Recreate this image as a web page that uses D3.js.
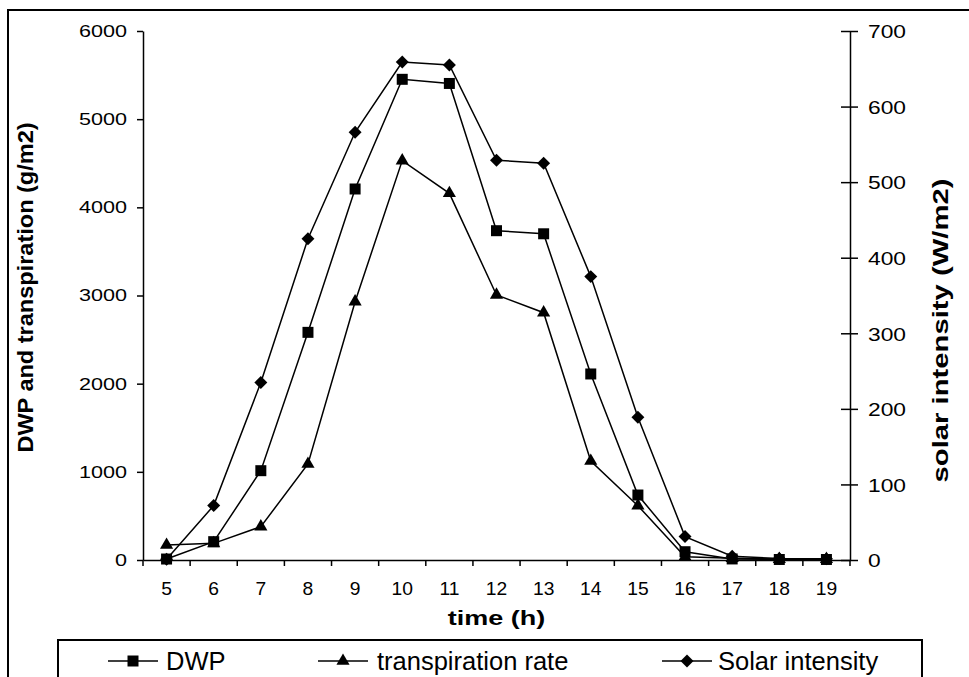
<!DOCTYPE html>
<html>
<head>
<meta charset="utf-8">
<script src="https://cdn.jsdelivr.net/npm/d3@7"></script>
<style>
  html, body { margin: 0; padding: 0; background: #fff; }
  svg { display: block; font-family: "Liberation Sans", Arial, sans-serif; }
</style>
</head>
<body>
<svg id="chart" width="969" height="677"></svg>
<script>
// ---- data ----
const hours = ["5","6","7","8","9","10","11","12","13","14","15","16","17","18","19"];
const dwp = [11, 208, 1013, 2582, 4208, 5452, 5405, 3735, 3700, 2110, 737, 94, 12, 6, 6];
const transpiration = [170, 189, 378, 1089, 2930, 4530, 4159, 3006, 2805, 1123, 616, 37, 20, 10, 10];
const solar = [1, 72, 235, 425, 566, 659, 655, 529, 525, 375, 189, 31, 5, 2, 1.5];
const leftTicks = [0, 1000, 2000, 3000, 4000, 5000, 6000];
const rightTicks = [0, 100, 200, 300, 400, 500, 600, 700];
const seriesNames = ["DWP", "transpiration rate", "Solar intensity"];

const svg = d3.select("#chart");
const L = 143, R = 850, T = 31, B = 560;

// outer border
svg.append("rect").attr("x", 8).attr("y", 10).attr("width", 980).attr("height", 700)
  .attr("fill", "none").attr("stroke", "#000").attr("stroke-width", 2);

const x = d3.scaleBand().domain(hours).range([L, R]);
const yL = d3.scaleLinear().domain([0, 6000]).range([B, T]);
const yR = d3.scaleLinear().domain([0, 700]).range([B, T]);

// left axis
const gL = svg.append("g").attr("transform", `translate(${L},0)`)
  .call(d3.axisLeft(yL).tickValues(leftTicks).tickFormat(d3.format("d")).tickSize(6).tickSizeOuter(0));
gL.select(".domain").attr("stroke-width", 1.5);
gL.selectAll(".tick line").attr("stroke-width", 1.5);
gL.selectAll(".tick text")
  .attr("x", 0).attr("dy", null).attr("dominant-baseline", "central")
  .attr("text-anchor", "end").attr("font-size", 16).attr("fill", "#000")
  .attr("transform", "translate(-16,0) scale(1.35,1)");

// right axis (ticks crossing)
const gR = svg.append("g").attr("transform", `translate(${R},0)`)
  .call(d3.axisRight(yR).tickValues(rightTicks).tickFormat(d3.format("d")).tickSize(8).tickSizeOuter(0));
gR.select(".domain").attr("stroke-width", 1.5);
gR.selectAll(".tick line").attr("x1", -9).attr("x2", 8).attr("stroke-width", 1.5);
gR.selectAll(".tick text")
  .attr("x", 0).attr("dy", null).attr("dominant-baseline", "central")
  .attr("text-anchor", "start").attr("font-size", 19).attr("fill", "#000")
  .attr("transform", "translate(18,0) scale(1.2,1)");

// bottom axis: labels at category centres, tick marks between categories
const gB = svg.append("g").attr("transform", `translate(0,${B})`)
  .call(d3.axisBottom(x).tickSize(0).tickPadding(0));
gB.select(".domain").attr("stroke-width", 1.5);
gB.selectAll(".tick text")
  .attr("y", 0).attr("dy", null).attr("font-size", 17.5).attr("fill", "#000")
  .attr("transform", "translate(0,35) scale(1.1,1)");
const bounds = hours.map(h => x(h)).concat([x.range()[1]]);
gB.selectAll("line.sep").data(bounds).join("line").attr("class", "sep")
  .attr("x1", d => d).attr("x2", d => d).attr("y1", 0).attr("y2", 6)
  .attr("stroke", "#000").attr("stroke-width", 1.5);

// axis titles
svg.append("text").attr("text-anchor", "middle").attr("font-weight", "bold")
  .attr("font-size", 20)
  .attr("transform", `translate(${(L + R) / 2},625) scale(1.35,1)`)
  .text("time (h)");
svg.append("text").attr("text-anchor", "middle").attr("font-weight", "bold")
  .attr("font-size", 22)
  .attr("transform", `translate(33,${(T + B) / 2 - 8}) rotate(-90) scale(1.07,1)`)
  .text("DWP and transpiration (g/m2)");
svg.append("text").attr("text-anchor", "middle").attr("font-weight", "bold")
  .attr("font-size", 22)
  .attr("transform", `translate(948,${(T + B) / 2 + 35}) rotate(-90) scale(1.33,1)`)
  .text("solar intensity (W/m2)");

// symbols
const diamondType = {
  draw(ctx, size) {
    const r = Math.sqrt(size / 2);
    ctx.moveTo(0, -r); ctx.lineTo(r, 0); ctx.lineTo(0, r); ctx.lineTo(-r, 0); ctx.closePath();
  }
};
const sym = {
  square: d3.symbol().type(d3.symbolSquare).size(121),
  triangle: d3.symbol().type(d3.symbolTriangle).size(75),
  diamond: d3.symbol().type(diamondType).size(84)
};
const series = [
  { name: seriesNames[0], values: dwp, y: yL, shape: "square" },
  { name: seriesNames[1], values: transpiration, y: yL, shape: "triangle" },
  { name: seriesNames[2], values: solar, y: yR, shape: "diamond" }
];
const cx = h => x(h) + x.bandwidth() / 2;
const line = d3.line();
series.forEach(s => {
  const pts = hours.map((h, i) => [cx(h), s.y(s.values[i])]);
  svg.append("path").attr("d", line(pts)).attr("fill", "none")
    .attr("stroke", "#000").attr("stroke-width", 1.5);
  svg.append("g").selectAll("path").data(pts).join("path")
    .attr("d", sym[s.shape]())
    .attr("transform", d => `translate(${d[0]},${d[1]})`)
    .attr("fill", "#000");
});

// legend
svg.append("rect").attr("x", 58).attr("y", 640).attr("width", 864).attr("height", 60)
  .attr("fill", "#fff").attr("stroke", "#000").attr("stroke-width", 2);
const legendPos = [{ lx: 108, tx: 166 }, { lx: 318, tx: 377 }, { lx: 662, tx: 718 }];
series.forEach((s, i) => {
  const p = legendPos[i];
  const yy = 661;
  const g = svg.append("g");
  g.append("line").attr("x1", p.lx).attr("x2", p.lx + 50).attr("y1", yy).attr("y2", yy)
    .attr("stroke", "#000").attr("stroke-width", 1.5);
  g.append("path").attr("d", sym[s.shape]())
    .attr("transform", `translate(${p.lx + 25},${yy})`).attr("fill", "#000");
  g.append("text").attr("x", p.tx).attr("y", 670).attr("font-size", 25.5)
    .attr("fill", "#000").text(s.name);
});
</script>
</body>
</html>
